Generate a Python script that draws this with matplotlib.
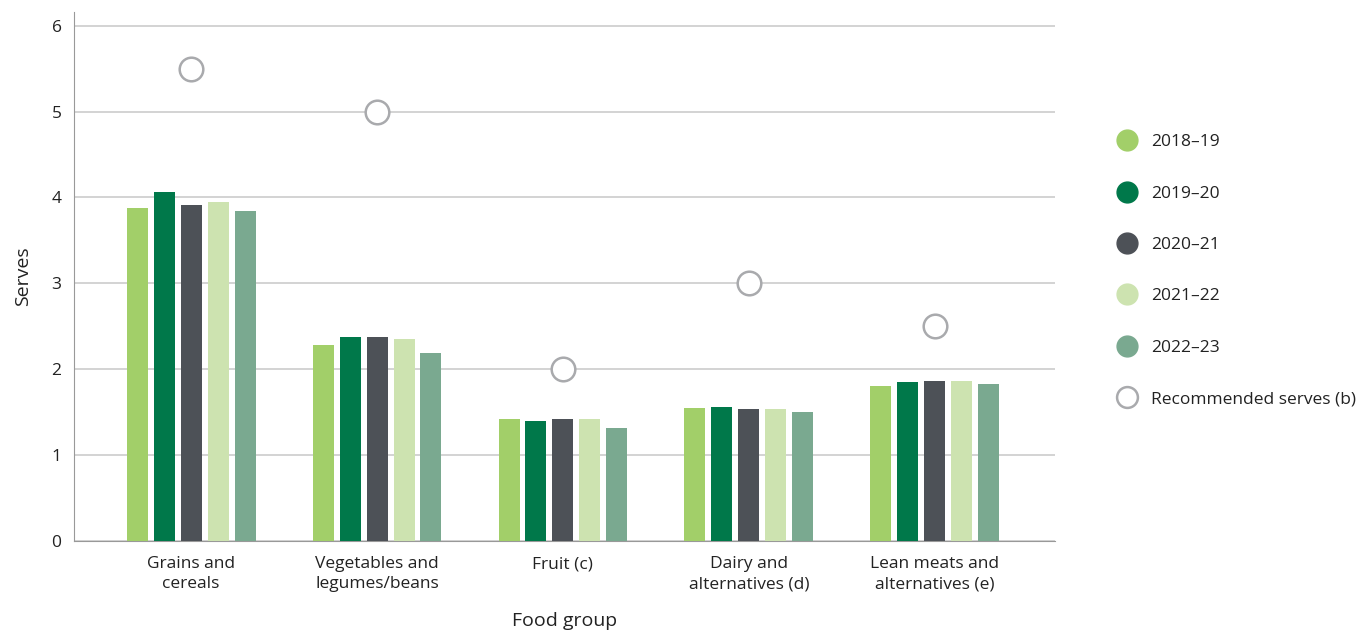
import matplotlib.pyplot as plt
from matplotlib.lines import Line2D
import numpy as np

plt.rcParams['font.family'] = ['Open Sans', 'DejaVu Sans']

grupos = ["Grains and\ncereals", "Vegetables and\nlegumes/beans", "Fruit (c)",
          "Dairy and\nalternatives (d)", "Lean meats and\nalternatives (e)"]
periodos = ["2018\u201319", "2019\u201320", "2020\u201321", "2021\u201322", "2022\u201323"]

v_2018 = [3.88, 2.28, 1.42, 1.55, 1.81]
v_2019 = [4.06, 2.37, 1.40, 1.56, 1.85]
v_2020 = [3.91, 2.37, 1.42, 1.54, 1.86]
v_2021 = [3.95, 2.35, 1.42, 1.54, 1.86]
v_2022 = [3.84, 2.19, 1.32, 1.50, 1.83]
recomendadas = [5.5, 5.0, 2.0, 3.0, 2.5]

series = [v_2018, v_2019, v_2020, v_2021, v_2022]
colores = ["#a2cf69", "#00784a", "#4d5157", "#cde3b0", "#7aa990"]

fig = plt.figure(figsize=(13.59, 6.3), dpi=100)
ax = fig.add_axes([0.0545, 0.1413, 0.7215, 0.8397])

x = np.arange(len(grupos))
paso = 0.145
ancho = 0.113
for i, (vals, col) in enumerate(zip(series, colores)):
    ax.bar(x + (i - 2) * paso, vals, width=ancho, color=col, zorder=3)

# círculos de porciones recomendadas
ax.plot(x, recomendadas, linestyle="none", marker="o", markersize=17,
        markerfacecolor="white", markeredgecolor="#a9aaad", markeredgewidth=1.8, zorder=4)

ax.set_xlim(-0.63, 4.645)
ax.set_ylim(0, 6.16)
ax.set_yticks(range(0, 7))
ax.set_xticks(x)
ax.set_xticklabels(grupos, fontsize=12.5, color="#222222", linespacing=1.35)
ax.tick_params(axis="both", length=0, labelsize=12.5, colors="#222222")
ax.tick_params(axis="x", pad=11)
ax.tick_params(axis="y", pad=9)
ax.grid(axis="y", color="#cccccc", linewidth=1.2, zorder=0)

for s in ["top", "right"]:
    ax.spines[s].set_visible(False)
ax.spines["left"].set_color("#999999")
ax.spines["bottom"].set_color("#999999")

ax.set_ylabel("Serves", fontsize=14, color="#222222", labelpad=14)
ax.set_xlabel("Food group", fontsize=14, color="#222222", labelpad=14)

manejadores = [Line2D([], [], linestyle="none", marker="o", markersize=15,
                      markerfacecolor=c, markeredgecolor=c) for c in colores]
manejadores.append(Line2D([], [], linestyle="none", marker="o", markersize=15,
                          markerfacecolor="white", markeredgecolor="#a9aaad", markeredgewidth=1.8))
fig.legend(manejadores, periodos + ["Recommended serves (b)"], loc="upper left",
           bbox_to_anchor=(0.805, 0.812), frameon=False, fontsize=12.5,
           labelspacing=2.03, handletextpad=0.4, labelcolor="#222222")

plt.savefig("out.png", dpi=100)
